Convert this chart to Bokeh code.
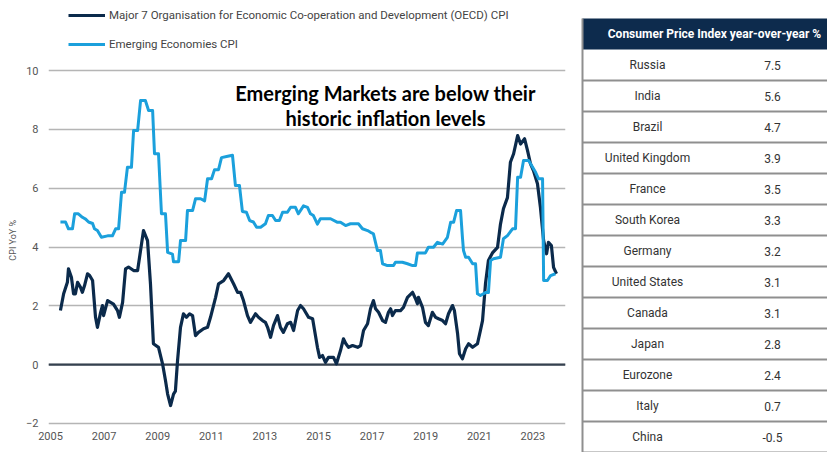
from bokeh.plotting import figure
from bokeh.models import Range1d, FixedTicker, Legend, LegendItem, Label, Span
from bokeh.layouts import row
from bokeh.embed import file_html
from bokeh.resources import INLINE
from bokeh.core.properties import value

# ---------------- data ----------------
oecd_year = [2005.37, 2005.49, 2005.63, 2005.67, 2005.78, 2005.86, 2005.93, 2006.01, 2006.12, 2006.19,
             2006.27, 2006.38, 2006.46, 2006.57, 2006.68, 2006.75, 2006.87, 2006.94, 2006.98, 2007.13,
             2007.24, 2007.35, 2007.50, 2007.57, 2007.69, 2007.80, 2007.91, 2008.10, 2008.25, 2008.36,
             2008.47, 2008.62, 2008.73, 2008.84, 2009.03, 2009.18, 2009.29, 2009.37, 2009.48, 2009.59,
             2009.66, 2009.74, 2009.85, 2009.96, 2010.07, 2010.19, 2010.30, 2010.41, 2010.52, 2010.71,
             2010.86, 2010.97, 2011.16, 2011.27, 2011.46, 2011.64, 2011.83, 2011.98, 2012.09, 2012.20,
             2012.35, 2012.46, 2012.65, 2012.76, 2012.91, 2013.02, 2013.10, 2013.21, 2013.32, 2013.47,
             2013.58, 2013.69, 2013.84, 2013.96, 2014.07, 2014.22, 2014.33, 2014.44, 2014.63, 2014.78,
             2014.96, 2015.04, 2015.15, 2015.26, 2015.37, 2015.56, 2015.67, 2015.82, 2015.93, 2016.01,
             2016.12, 2016.27, 2016.46, 2016.57, 2016.68, 2016.83, 2016.94, 2017.05, 2017.13, 2017.24,
             2017.39, 2017.50, 2017.61, 2017.69, 2017.76, 2017.87, 2018.06, 2018.17, 2018.32, 2018.51,
             2018.62, 2018.69, 2018.73, 2018.88, 2018.99, 2019.10, 2019.25, 2019.37, 2019.48, 2019.63,
             2019.74, 2019.85, 2020.00, 2020.07, 2020.19, 2020.26, 2020.37, 2020.49, 2020.60, 2020.75,
             2020.93, 2021.04, 2021.12, 2021.23, 2021.34, 2021.49, 2021.68, 2021.79, 2021.90, 2022.05,
             2022.16, 2022.28, 2022.43, 2022.54, 2022.69, 2022.80, 2022.91, 2023.02, 2023.17, 2023.28,
             2023.40, 2023.51, 2023.58, 2023.69, 2023.77, 2023.88]
oecd_cpi = [1.84, 2.41, 2.80, 3.26, 2.97, 2.41, 2.41, 2.80, 2.63, 2.46,
            2.69, 3.09, 3.03, 2.86, 1.61, 1.27, 1.78, 2.01, 1.67, 2.18,
            2.12, 2.06, 1.84, 1.61, 2.12, 3.26, 3.32, 3.20, 3.20, 3.88,
            4.56, 4.22, 2.75, 0.71, 0.59, 0.03, -0.54, -1.00, -1.39, -1.00,
            -0.90, 0.14, 1.27, 1.73, 1.61, 1.73, 1.67, 0.99, 1.10, 1.22,
            1.27, 1.61, 2.29, 2.75, 2.86, 3.09, 2.75, 2.46, 2.46, 2.18,
            1.67, 1.44, 1.73, 1.61, 1.50, 1.44, 1.27, 0.93, 1.33, 1.67,
            1.27, 1.10, 1.39, 1.44, 1.16, 1.84, 2.01, 1.90, 1.61, 1.56,
            0.59, 0.25, 0.31, 0.08, 0.25, 0.25, 0.03, 0.48, 0.88, 0.73,
            0.59, 0.65, 0.59, 0.65, 1.16, 1.39, 1.90, 2.18, 1.90, 1.78,
            1.50, 1.44, 1.78, 1.90, 1.67, 1.84, 1.84, 1.95, 2.29, 2.46,
            2.24, 2.07, 2.29, 1.95, 1.44, 1.33, 1.78, 1.61, 1.56, 1.50,
            1.39, 1.73, 2.01, 1.84, 1.05, 0.37, 0.20, 0.54, 0.71, 0.59,
            0.71, 1.16, 1.50, 2.75, 3.54, 3.80, 3.99, 4.78, 5.30, 5.68,
            6.88, 7.17, 7.79, 7.50, 7.68, 7.28, 6.83, 6.60, 6.15, 5.35,
            4.22, 3.77, 4.16, 4.05, 3.31, 3.09]

em_year = [2005.37, 2005.56, 2005.67, 2005.82, 2005.90, 2006.04, 2006.19, 2006.31, 2006.42, 2006.57,
           2006.64, 2006.75, 2006.90, 2007.13, 2007.31, 2007.43, 2007.54, 2007.65, 2007.76, 2007.87,
           2008.02, 2008.10, 2008.25, 2008.36, 2008.54, 2008.66, 2008.81, 2008.88, 2009.03, 2009.14,
           2009.29, 2009.37, 2009.55, 2009.59, 2009.78, 2009.85, 2010.04, 2010.11, 2010.30, 2010.41,
           2010.60, 2010.75, 2010.86, 2011.01, 2011.12, 2011.27, 2011.38, 2011.57, 2011.79, 2011.90,
           2012.05, 2012.16, 2012.31, 2012.43, 2012.57, 2012.69, 2012.84, 2013.02, 2013.13, 2013.28,
           2013.40, 2013.54, 2013.66, 2013.84, 2013.96, 2014.14, 2014.25, 2014.44, 2014.59, 2014.70,
           2014.81, 2014.96, 2015.07, 2015.45, 2015.71, 2015.82, 2016.01, 2016.19, 2016.49, 2016.64,
           2016.83, 2016.94, 2017.05, 2017.20, 2017.31, 2017.39, 2017.57, 2017.80, 2017.87, 2018.13,
           2018.32, 2018.51, 2018.62, 2018.69, 2018.99, 2019.10, 2019.29, 2019.44, 2019.63, 2019.81,
           2019.93, 2020.04, 2020.15, 2020.30, 2020.37, 2020.41, 2020.49, 2020.60, 2020.75, 2020.86,
           2020.93, 2021.04, 2021.23, 2021.34, 2021.42, 2021.53, 2021.79, 2021.90, 2022.05, 2022.24,
           2022.35, 2022.43, 2022.54, 2022.65, 2022.84, 2022.99, 2023.10, 2023.21, 2023.36, 2023.40,
           2023.54, 2023.66, 2023.84]
em_cpi = [4.85, 4.85, 4.62, 4.62, 5.13, 5.13, 5.01, 4.95, 4.85, 4.80,
          4.62, 4.56, 4.33, 4.38, 4.38, 4.62, 4.62, 5.86, 5.86, 6.71,
          6.71, 7.96, 7.96, 8.98, 8.98, 8.64, 8.64, 7.17, 7.17, 5.13,
          5.13, 3.82, 3.76, 3.50, 3.50, 4.22, 4.22, 5.24, 5.24, 5.64,
          5.64, 5.57, 6.32, 6.32, 6.63, 6.63, 7.04, 7.08, 7.12, 6.09,
          6.09, 5.21, 5.18, 4.90, 4.85, 4.67, 4.67, 4.79, 5.07, 5.07,
          4.90, 4.90, 5.18, 5.18, 5.35, 5.35, 5.13, 5.40, 5.35, 5.13,
          5.07, 4.78, 4.96, 4.96, 4.84, 4.84, 4.73, 4.79, 4.79, 4.62,
          4.56, 4.50, 4.45, 3.88, 3.88, 3.43, 3.37, 3.37, 3.48, 3.48,
          3.43, 3.37, 3.37, 3.80, 3.80, 3.99, 3.99, 4.16, 4.10, 4.33,
          4.84, 4.84, 5.24, 5.24, 4.33, 3.88, 3.65, 3.65, 3.43, 3.43,
          2.41, 2.35, 2.45, 2.45, 3.54, 3.60, 3.65, 4.28, 4.39, 4.62,
          4.62, 6.37, 6.37, 6.94, 6.94, 6.71, 6.54, 6.32, 6.32, 2.86,
          2.86, 3.03, 3.09]

year_ticks = [2005, 2007, 2009, 2011, 2013, 2015, 2017, 2019, 2021, 2023]
cpi_ticks = [-2, 0, 2, 4, 6, 8, 10]

series_names = ["Major 7 Organisation for Economic Co-operation and Development (OECD) CPI",
                "Emerging Economies CPI"]
y_title = "CPI YoY %"
note_lines = ["Emerging Markets are below their", "historic inflation levels"]

table_title = "Consumer Price Index year-over-year %"
countries = ["Russia", "India", "Brazil", "United Kingdom", "France", "South Korea", "Germany",
             "United States", "Canada", "Japan", "Eurozone", "Italy", "China"]
country_cpi = [7.5, 5.6, 4.7, 3.9, 3.5, 3.3, 3.2, 3.1, 3.1, 2.8, 2.4, 0.7, -0.5]

# ---------------- chart ----------------
NAVY = "#0b2a4b"
SKY = "#1ba0dc"
TICK = "#555555"

p = figure(width=578, height=452, output_backend="svg", toolbar_location=None,
           x_range=Range1d(2004.925, 2024.216), y_range=Range1d(-2.102, 12.381),
           min_border_left=48, min_border_right=13, min_border_top=0, min_border_bottom=26,
           frame_align=False)
p.outline_line_color = None
p.background_fill_color = "white"
p.border_fill_color = "white"
p.xgrid.grid_line_color = None
p.ygrid.ticker = FixedTicker(ticks=cpi_ticks)
p.ygrid.grid_line_color = "#b5b5b5"
p.ygrid.grid_line_width = 1.5

p.xaxis.ticker = FixedTicker(ticks=year_ticks)
p.yaxis.ticker = FixedTicker(ticks=cpi_ticks)
for ax in (p.xaxis, p.yaxis):
    ax.axis_line_color = None
    ax.major_tick_line_color = None
    ax.minor_tick_line_color = None
    ax.major_tick_out = 0
    ax.major_tick_in = 0
    ax.minor_tick_out = 0
    ax.minor_tick_in = 0
    ax.major_label_text_font = "Roboto"
    ax.major_label_text_font_size = "11px"
    ax.major_label_text_color = TICK
p.xaxis.major_label_standoff = 5
p.yaxis.major_label_standoff = 10
# trailing no-break spaces shift the visible title down along the axis, as in the reference
p.yaxis.axis_label = y_title + "\u00a0" * 24
p.yaxis.axis_label_text_font = "Roboto"
p.yaxis.axis_label_text_font_size = "9px"
p.yaxis.axis_label_text_font_style = "normal"
p.yaxis.axis_label_text_color = TICK
p.yaxis.axis_label_standoff = 5

p.add_layout(Span(location=0, dimension="width", line_color="#35414f", line_width=2.2, level="underlay"))

r_oecd = p.line(oecd_year, oecd_cpi, line_color=NAVY, line_width=3.2, line_join="round")
r_em = p.line(em_year, em_cpi, line_color=SKY, line_width=3.0, line_join="round")

legend = Legend(items=[LegendItem(label=series_names[0], renderers=[r_oecd]),
                       LegendItem(label=series_names[1], renderers=[r_em])],
                location=(20, 374), orientation="vertical", padding=0, margin=0, spacing=13,
                glyph_height=16, glyph_width=37, label_height=16, label_standoff=4,
                label_text_font="Roboto", label_text_font_size="11.5px",
                label_text_color="#444444", background_fill_alpha=0, border_line_alpha=0)
p.add_layout(legend)

for txt, yv in zip(note_lines, [9.25, 8.4]):
    p.add_layout(Label(x=2017.5, y=yv, text=txt, text_align="center", text_baseline="middle",
                       text_font="Lato", text_font_style="bold", text_font_size="20px",
                       text_color="black"))

# ---------------- table ----------------
nrows = len(countries)
rows = list(range(nrows))
t = figure(width=249, height=452, output_backend="svg", toolbar_location=None,
           x_range=Range1d(0, 249), y_range=Range1d(12.5, -2.081),
           x_axis_type=None, y_axis_type=None, min_border=0, frame_align=False)
t.outline_line_color = None
t.grid.visible = False
t.background_fill_color = "white"
t.border_fill_color = "white"

t.quad(left=[4], right=[249], top=[-1.5], bottom=[-0.5], fill_color="#0d2b4d", line_color=None)
t.segment(x0=[4] * nrows, x1=[249] * nrows, y0=[r + 0.5 for r in rows], y1=[r + 0.5 for r in rows],
          line_color="#8f8f8f", line_width=2)
t.segment(x0=[4], x1=[4], y0=[-1.5], y1=[nrows + 0.5], line_color="#8f8f8f", line_width=2)

t.text(x=[136], y=[-1], text=[table_title], text_align="center", text_baseline="middle",
       text_font=value("Roboto"), text_font_style="bold", text_font_size="12px", text_color="white")
t.text(x=[69] * nrows, y=rows, text=countries, text_align="center", text_baseline="middle",
       text_font=value("Roboto"), text_font_size="12px", text_color="#333333")
t.text(x=[194] * nrows, y=rows, text=[f"{v:.1f}" for v in country_cpi], text_align="center",
       text_baseline="middle", text_font=value("Roboto"), text_font_size="12px", text_color="#333333")

layout = row(p, t)
open("out.html", "w").write(file_html(layout, INLINE))
